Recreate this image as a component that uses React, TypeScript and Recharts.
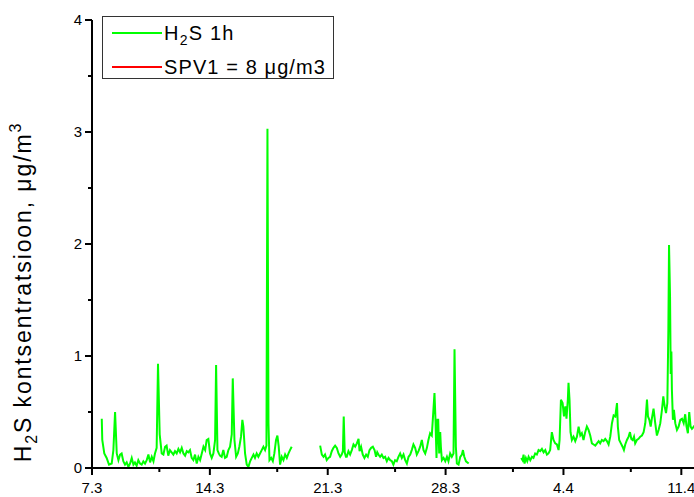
import { LineChart, Line, XAxis, YAxis, Legend, ReferenceLine } from "recharts";

// H2S hourly concentration, x = days since 7.3
const segment1: [number, number][] = [
  [0.58, 0.44], [0.61, 0.25], [0.73, 0.13], [0.87, 0.09], [1.01, 0.03], [1.17, 0.04], [1.27, 0.16],
  [1.37, 0.5], [1.47, 0.13], [1.57, 0.07], [1.67, 0.12], [1.76, 0.13], [1.86, 0.06], [1.96, 0.03],
  [2.06, 0.05], [2.16, 0.01], [2.26, 0.04], [2.36, 0.09], [2.46, 0.03], [2.55, 0.05], [2.65, 0.02],
  [2.75, 0.07], [2.85, 0.04], [2.95, 0.03], [3.05, 0.06], [3.15, 0.04], [3.25, 0.07], [3.35, 0.12],
  [3.45, 0.05], [3.55, 0.1], [3.65, 0.06], [3.74, 0.13], [3.84, 0.18], [3.92, 0.93], [4.02, 0.3],
  [4.14, 0.13], [4.24, 0.12], [4.34, 0.19], [4.43, 0.2], [4.53, 0.11], [4.63, 0.16], [4.73, 0.14],
  [4.83, 0.12], [4.93, 0.15], [5.03, 0.13], [5.13, 0.17], [5.23, 0.14], [5.33, 0.18], [5.43, 0.13],
  [5.53, 0.11], [5.63, 0.15], [5.72, 0.14], [5.82, 0.16], [5.92, 0.09], [6.02, 0.07], [6.12, 0.12],
  [6.22, 0.04], [6.32, 0.1], [6.42, 0.07], [6.52, 0.13], [6.62, 0.19], [6.72, 0.16], [6.81, 0.25],
  [6.91, 0.26], [7.01, 0.13], [7.11, 0.09], [7.21, 0.13], [7.31, 0.25], [7.37, 0.92], [7.45, 0.16],
  [7.53, 0.13], [7.6, 0.11], [7.7, 0.1], [7.8, 0.16], [7.9, 0.09], [8.0, 0.1], [8.1, 0.16],
  [8.2, 0.19], [8.3, 0.3], [8.36, 0.8], [8.46, 0.25], [8.56, 0.1], [8.66, 0.13], [8.75, 0.19],
  [8.85, 0.28], [8.93, 0.43], [8.99, 0.37], [9.09, 0.13], [9.19, 0.03], [9.29, 0.01], [9.39, 0.06],
  [9.49, 0.09], [9.59, 0.12], [9.68, 0.09], [9.78, 0.13], [9.88, 0.1], [9.98, 0.13], [10.08, 0.16],
  [10.18, 0.19], [10.28, 0.16], [10.36, 0.2], [10.42, 3.03], [10.48, 0.4], [10.54, 0.07], [10.64, 0.09],
  [10.74, 0.06], [10.83, 0.13], [10.93, 0.25], [11.01, 0.29], [11.09, 0.19], [11.17, 0.03], [11.27, 0.1],
  [11.37, 0.07], [11.47, 0.12], [11.57, 0.09], [11.67, 0.13], [11.76, 0.16], [11.86, 0.19],
];

const segment2: [number, number][] = [
  [13.55, 0.2], [13.65, 0.12], [13.75, 0.1], [13.84, 0.12], [13.94, 0.07], [14.04, 0.09], [14.14, 0.1],
  [14.24, 0.15], [14.34, 0.18], [14.44, 0.2], [14.54, 0.18], [14.64, 0.13], [14.74, 0.1], [14.83, 0.12],
  [14.9, 0.15], [14.95, 0.46], [15.01, 0.14], [15.08, 0.1], [15.13, 0.1], [15.23, 0.15], [15.33, 0.12],
  [15.43, 0.16], [15.53, 0.21], [15.63, 0.19], [15.73, 0.22], [15.83, 0.26], [15.89, 0.15], [15.98, 0.19],
  [16.08, 0.12], [16.18, 0.09], [16.28, 0.12], [16.38, 0.1], [16.48, 0.16], [16.58, 0.18], [16.68, 0.19],
  [16.78, 0.16], [16.87, 0.1], [16.94, 0.14], [17.01, 0.12], [17.11, 0.1], [17.21, 0.12], [17.31, 0.09],
  [17.41, 0.1], [17.51, 0.06], [17.61, 0.09], [17.71, 0.07], [17.81, 0.06], [17.9, 0.03], [18.0, 0.07],
  [18.1, 0.06], [18.2, 0.1], [18.3, 0.13], [18.4, 0.09], [18.5, 0.12], [18.6, 0.07], [18.7, 0.04],
  [18.8, 0.1], [18.9, 0.12], [18.99, 0.16], [19.09, 0.21], [19.19, 0.18], [19.29, 0.12], [19.39, 0.15],
  [19.49, 0.19], [19.59, 0.25], [19.69, 0.16], [19.79, 0.13], [19.89, 0.18], [19.98, 0.25], [20.08, 0.31],
  [20.18, 0.29], [20.24, 0.43], [20.34, 0.67], [20.4, 0.43], [20.46, 0.09], [20.52, 0.43], [20.56, 0.43],
  [20.62, 0.13], [20.68, 0.32], [20.72, 0.19], [20.78, 0.07], [20.88, 0.09], [20.98, 0.06], [21.08, 0.1],
  [21.17, 0.06], [21.27, 0.13], [21.37, 0.1], [21.47, 0.13], [21.53, 1.06], [21.61, 0.19], [21.67, 0.04],
  [21.77, 0.03], [21.87, 0.1], [21.97, 0.12], [22.03, 0.16], [22.11, 0.1], [22.21, 0.06], [22.37, 0.04],
];

const segment3: [number, number][] = [
  [25.49, 0.09], [25.57, 0.07], [25.63, 0.12], [25.69, 0.04], [25.77, 0.09], [25.85, 0.06], [25.93, 0.1],
  [26.03, 0.07], [26.13, 0.1], [26.22, 0.09], [26.32, 0.13], [26.42, 0.12], [26.52, 0.16], [26.62, 0.15],
  [26.72, 0.17], [26.82, 0.14], [26.92, 0.16], [27.02, 0.12], [27.11, 0.13], [27.21, 0.16], [27.31, 0.32],
  [27.41, 0.25], [27.51, 0.22], [27.61, 0.21], [27.71, 0.16], [27.77, 0.25], [27.85, 0.61], [27.95, 0.58],
  [28.03, 0.46], [28.11, 0.55], [28.18, 0.44], [28.26, 0.61], [28.3, 0.76], [28.36, 0.61], [28.42, 0.32],
  [28.5, 0.25], [28.6, 0.28], [28.7, 0.24], [28.8, 0.28], [28.9, 0.37], [29.0, 0.29], [29.09, 0.31],
  [29.19, 0.25], [29.29, 0.32], [29.39, 0.37], [29.49, 0.34], [29.59, 0.29], [29.69, 0.22], [29.79, 0.21],
  [29.89, 0.2], [29.99, 0.22], [30.09, 0.24], [30.18, 0.22], [30.28, 0.25], [30.38, 0.24], [30.48, 0.26],
  [30.58, 0.24], [30.68, 0.21], [30.78, 0.28], [30.88, 0.4], [30.98, 0.47], [31.08, 0.46], [31.18, 0.58],
  [31.23, 0.37], [31.31, 0.25], [31.41, 0.22], [31.51, 0.19], [31.59, 0.16], [31.67, 0.21], [31.77, 0.25],
  [31.87, 0.28], [31.95, 0.32], [32.03, 0.26], [32.11, 0.25], [32.19, 0.28], [32.26, 0.22], [32.36, 0.25],
  [32.46, 0.26], [32.56, 0.28], [32.66, 0.29], [32.76, 0.32], [32.86, 0.4], [32.96, 0.61], [33.02, 0.46],
  [33.1, 0.43], [33.18, 0.37], [33.25, 0.44], [33.35, 0.53], [33.45, 0.4], [33.55, 0.29], [33.65, 0.34],
  [33.75, 0.4], [33.85, 0.52], [33.93, 0.64], [34.01, 0.55], [34.09, 0.49], [34.17, 0.58], [34.23, 1.23],
  [34.27, 1.99], [34.33, 1.53], [34.37, 0.84], [34.41, 1.04], [34.44, 0.7], [34.5, 0.43], [34.56, 0.52],
  [34.64, 0.4], [34.74, 0.34], [34.84, 0.37], [34.94, 0.43], [35.04, 0.44], [35.14, 0.4], [35.23, 0.48],
  [35.31, 0.37], [35.39, 0.31], [35.47, 0.5], [35.55, 0.37], [35.63, 0.35], [35.8, 0.38],
];

const spv1Limit = 8;

const xMajorTicks = [0, 7, 14, 21, 28, 35];
const xMinorTicks = [4, 11, 18, 25, 32];
const xTickLabels = ["7.3", "14.3", "21.3", "28.3", "4.4", "11.4"];
const yMajorTicks = [0, 1, 2, 3, 4];
const yMinorTicks = [0.5, 1.5, 2.5, 3.5];

const FONT = "Arial, 'Liberation Sans', sans-serif";
const TICK_SIZE = 7;
const TICK_MARGIN = 4;

// null rows between segments break the line
const toRows = (seg: [number, number][]) => seg.map(([day, v]) => ({ day, h2s: v as number | null }));
const data = [
  ...toRows(segment1),
  { day: (segment1[segment1.length - 1][0] + segment2[0][0]) / 2, h2s: null },
  ...toRows(segment2),
  { day: (segment2[segment2.length - 1][0] + segment3[0][0]) / 2, h2s: null },
  ...toRows(segment3),
];

const XTick = (props: any) => {
  const { x, y, payload } = props;
  const axisY = y - TICK_SIZE - TICK_MARGIN;
  const i = xMajorTicks.indexOf(payload.value);
  const major = i >= 0;
  return (
    <g>
      <line x1={x} x2={x} y1={axisY} y2={axisY + (major ? 7 : 4)} stroke="#000" strokeWidth={2} />
      {major && (
        <text x={x} y={axisY + 25} textAnchor="middle" fontFamily={FONT} fontSize={15} fill="#000">
          {xTickLabels[i]}
        </text>
      )}
    </g>
  );
};

const YTick = (props: any) => {
  const { x, y, payload } = props;
  const axisX = x + TICK_SIZE + TICK_MARGIN;
  const major = yMajorTicks.includes(payload.value);
  return (
    <g>
      <line x1={axisX - (major ? 7 : 4)} x2={axisX} y1={y} y2={y} stroke="#000" strokeWidth={2} />
      {major && (
        <text x={axisX - 10} y={y} dy="0.36em" textAnchor="end" fontFamily={FONT} fontSize={15} fill="#000">
          {payload.value}
        </text>
      )}
    </g>
  );
};

const YTitle = () => (
  <text
    x={31}
    y={292}
    transform="rotate(-90, 31, 292)"
    textAnchor="middle"
    fontFamily={FONT}
    fontSize={23}
    letterSpacing={1.9}
    fill="#000"
  >
    H<tspan dy={6} fontSize={16}>2</tspan>
    <tspan dy={-6}>S kontsentratsioon, μg/m</tspan>
    <tspan dy={-10} fontSize={16}>3</tspan>
  </text>
);

const LegendBox = () => (
  <div style={{ width: 232, height: 63, border: "1px solid #333", background: "#fff", boxSizing: "border-box" }}>
    <svg width={230} height={61} style={{ display: "block" }}>
      <line x1={9} x2={59} y1={16} y2={16} stroke="#00ff00" strokeWidth={2} />
      <text x={61} y={23} fontFamily={FONT} fontSize={20} letterSpacing={1.2} fill="#000">
        H<tspan dy={5} fontSize={14}>2</tspan>
        <tspan dy={-5}>S 1h</tspan>
      </text>
      <line x1={9} x2={59} y1={50} y2={50} stroke="#ff0000" strokeWidth={2} />
      <text x={61} y={57} fontFamily={FONT} fontSize={20} letterSpacing={1.1} fill="#000">
        SPV1 = 8 μg/m3
      </text>
    </svg>
  </div>
);

export default function App() {
  return (
    <div style={{ position: "absolute", left: 0, top: 0, width: 694, height: 497, overflow: "hidden", background: "#fff" }}>
      <LineChart width={716} height={497} data={data} margin={{ top: 20, right: 1, bottom: 0, left: 0 }}>
        <XAxis
          dataKey="day"
          type="number"
          domain={[0, 37]}
          ticks={[...xMajorTicks, ...xMinorTicks].sort((a, b) => a - b)}
          interval={0}
          height={29}
          tickSize={TICK_SIZE}
          tickMargin={TICK_MARGIN}
          tickLine={false}
          axisLine={{ stroke: "#000", strokeWidth: 2 }}
          tick={<XTick />}
        />
        <YAxis
          type="number"
          domain={[0, 4]}
          allowDataOverflow
          ticks={[...yMajorTicks, ...yMinorTicks].sort((a, b) => a - b)}
          interval={0}
          width={92}
          tickSize={TICK_SIZE}
          tickMargin={TICK_MARGIN}
          tickLine={false}
          axisLine={{ stroke: "#000", strokeWidth: 2 }}
          tick={<YTick />}
          label={<YTitle />}
        />
        <ReferenceLine y={spv1Limit} stroke="#ff0000" strokeWidth={2} ifOverflow="hidden" />
        <Line
          type="linear"
          dataKey="h2s"
          name="H2S 1h"
          stroke="#00ff00"
          strokeWidth={2}
          dot={false}
          connectNulls={false}
          isAnimationActive={false}
        />
        <Legend
          layout="vertical"
          align="center"
          verticalAlign="middle"
          wrapperStyle={{ left: 102, top: 16, width: 232, margin: 0 }}
          content={() => <LegendBox />}
        />
      </LineChart>
    </div>
  );
}
